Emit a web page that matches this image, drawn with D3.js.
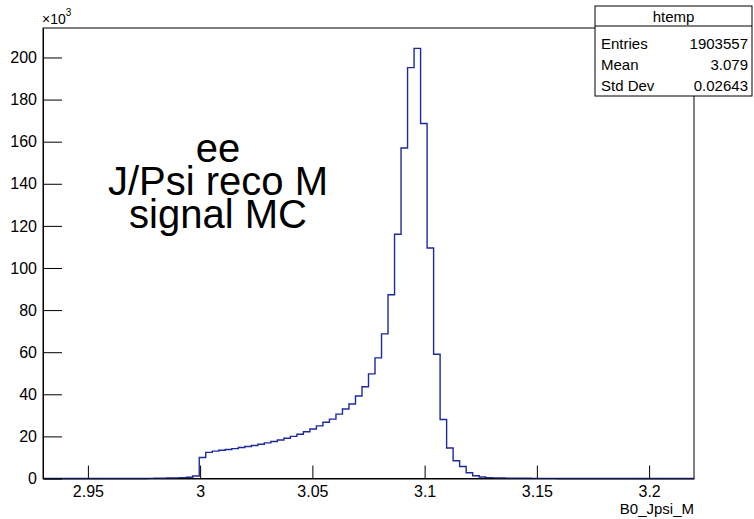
<!DOCTYPE html>
<html>
<head>
<meta charset="utf-8">
<script src="https://cdn.jsdelivr.net/npm/d3@7"></script>
<style>
  body { margin: 0; background: #fff; }
  text { font-family: "Liberation Sans", Arial, Helvetica, sans-serif; }
</style>
</head>
<body>
<script>
// histogram binning (htemp, 100 bins)
var xMin = 2.93, xMax = 3.22, nBins = 100;
// bin contents, units of 10^3 entries
var counts = [
	0, 0, 0, 0, 0, 0, 0, 0, 0, 0,
	0, 0, 0, 0, 0, 0, 0.05, 0.1, 0.15, 0.25,
	0.3, 0.4, 0.6, 1.2, 10.0, 12.4, 13.0, 13.4, 13.8, 14.2,
	14.7, 15.2, 15.7, 16.3, 16.9, 17.6, 18.3, 19.1, 20.0, 21.0,
	22.2, 23.5, 25.0, 26.7, 28.2, 30.6, 33.0, 35.4, 39.2, 43.6,
	49.7, 57.3, 68.7, 87.3, 116, 157, 195.2, 204.3, 168.6, 109.5,
	59, 28, 14.5, 8.4, 5.7, 2.7, 1.3, 0.7, 0.4, 0.3,
	0.25, 0.2, 0.15, 0.12, 0.1, 0.08, 0.06, 0.05, 0.04, 0.03,
	0, 0, 0, 0, 0, 0, 0, 0, 0, 0,
	0, 0, 0, 0, 0, 0, 0, 0, 0, 0
];
var yMax = 214;
var xMajor = [2.95, 3.0, 3.05, 3.1, 3.15, 3.2];
var xMajorLabels = ["2.95", "3", "3.05", "3.1", "3.15", "3.2"];
var xMinor = d3.range(294, 323).map(function (d) { return d / 100; });
var yMajor = d3.range(0, 201, 20);
var yMinor = d3.range(0, 211, 5);
var overlayLines = ["ee", "J/Psi reco M", "signal MC"];
var statsTitle = "htemp";
var statsRows = [["Entries", "1903557"], ["Mean", "3.079"], ["Std Dev", "0.02643"]];

var W = 754, H = 519;
var frame = { left: 43, right: 694, top: 28, bottom: 478.5 };

var svg = d3.select("body").append("svg")
	.attr("width", W)
	.attr("height", H);

var x = d3.scaleLinear().domain([xMin, xMax]).range([frame.left, frame.right]);
var y = d3.scaleLinear().domain([0, yMax]).range([frame.bottom, frame.top]);

var binW = (xMax - xMin) / nBins;

// frame
svg.append("rect")
	.attr("x", frame.left).attr("y", frame.top)
	.attr("width", frame.right - frame.left)
	.attr("height", frame.bottom - frame.top)
	.attr("fill", "none").attr("stroke", "#000").attr("stroke-width", 1);

// histogram outline as steps
var pts = [[x(xMin), y(0)]];
counts.forEach(function (c, i) {
	pts.push([x(xMin + i * binW), y(c)]);
	pts.push([x(xMin + (i + 1) * binW), y(c)]);
});
pts.push([x(xMax), y(0)]);
svg.append("path")
	.attr("d", d3.line()(pts))
	.attr("fill", "none")
	.attr("stroke", "#1c2a9c")
	.attr("stroke-width", 1.4);

// x axis
var gx = svg.append("g").attr("transform", "translate(0," + frame.bottom + ")");
gx.call(d3.axisBottom(x).tickValues(xMinor).tickSize(-6.5).tickFormat(""));
gx.call(d3.axisBottom(x).tickValues(xMajor).tickSize(-13).tickSizeOuter(0).tickPadding(7)
	.tickFormat(function (d, i) { return xMajorLabels[i]; }));

// y axis
var gy = svg.append("g").attr("transform", "translate(" + frame.left + ",0)");
gy.call(d3.axisLeft(y).tickValues(yMinor).tickSize(-10).tickFormat(""));
gy.call(d3.axisLeft(y).tickValues(yMajor).tickSize(-19).tickSizeOuter(0).tickPadding(6)
	.tickFormat(d3.format("d")));

svg.selectAll(".domain").attr("stroke", "#000");
svg.selectAll(".tick line").attr("stroke", "#000");
svg.selectAll(".tick text").attr("font-size", 16).attr("fill", "#000")
	.style("font-family", "'Liberation Sans', Arial, sans-serif");

// exponent label
var expo = svg.append("text").attr("x", 42).attr("y", 24).attr("font-size", 14);
expo.append("tspan").text("\u00d710");
expo.append("tspan").attr("dy", -8).attr("font-size", 10).text("3");

// axis title
svg.append("text")
	.attr("x", frame.right).attr("y", 514)
	.attr("text-anchor", "end").attr("font-size", 15)
	.text("B0_Jpsi_M");

// overlay text
svg.selectAll(".ovl").data(overlayLines).enter().append("text")
	.attr("class", "ovl")
	.attr("x", 218)
	.attr("y", function (d, i) { return 162 + i * 33; })
	.attr("text-anchor", "middle")
	.attr("font-size", 40)
	.text(function (d) { return d; });

// stats box
var box = { left: 595, right: 752, top: 6, sep: 26, bottom: 96 };
svg.append("rect")
	.attr("x", box.left).attr("y", box.top)
	.attr("width", box.right - box.left).attr("height", box.bottom - box.top)
	.attr("fill", "#fff").attr("stroke", "#000");
svg.append("line")
	.attr("x1", box.left).attr("x2", box.right)
	.attr("y1", box.sep).attr("y2", box.sep)
	.attr("stroke", "#000");
svg.append("text")
	.attr("x", (box.left + box.right) / 2).attr("y", 22)
	.attr("text-anchor", "middle").attr("font-size", 15)
	.text(statsTitle);
statsRows.forEach(function (r, i) {
	var yy = 49 + i * 21;
	svg.append("text").attr("x", box.left + 6).attr("y", yy).attr("font-size", 15).text(r[0]);
	svg.append("text").attr("x", box.right - 4).attr("y", yy).attr("text-anchor", "end").attr("font-size", 15).text(r[1]);
});
</script>
</body>
</html>
